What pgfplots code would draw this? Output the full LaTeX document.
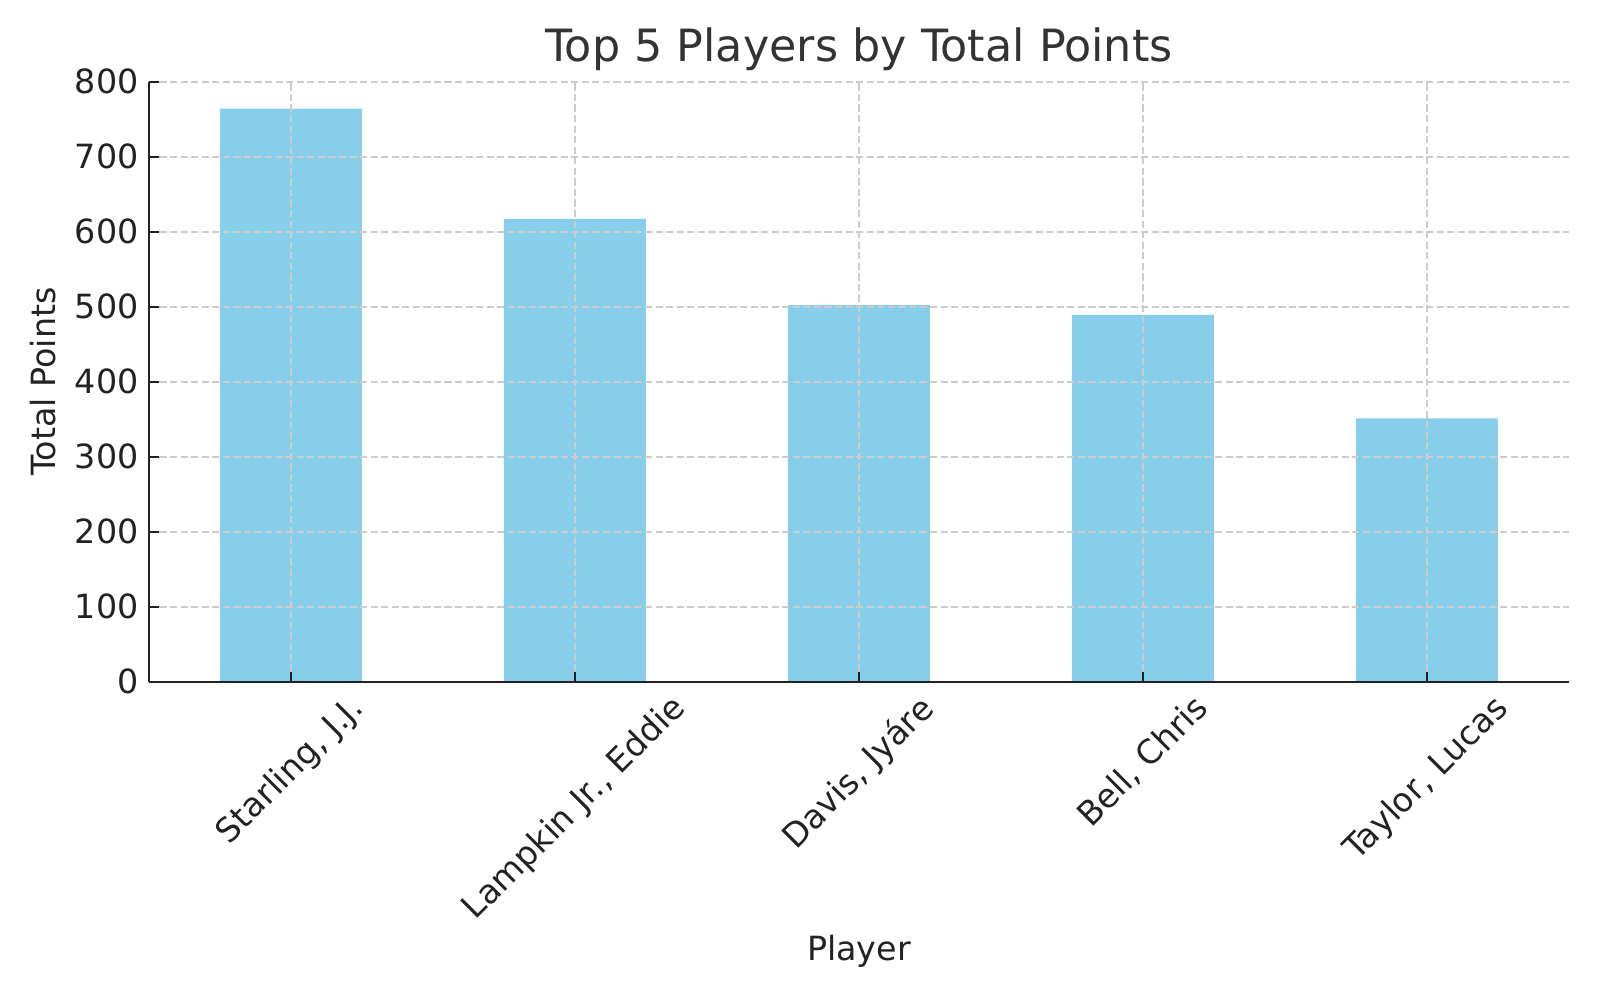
\documentclass[border=0pt]{standalone}
\usepackage{fontspec}
\setmainfont{DejaVu Sans}
\usepackage{graphicx}
\usepackage{pgfplots}
\pgfplotsset{compat=1.18}
\definecolor{barblue}{HTML}{87CEEB}
\definecolor{axcol}{HTML}{222222}
\definecolor{gridcol}{HTML}{CCCCCC}
\definecolor{titlecol}{HTML}{333333}
\begin{document}
\begin{tikzpicture}
\begin{axis}[
  at={(0,0)}, anchor=south west,
  scale only axis, width=511.2pt, height=216pt,
  xmin=-0.5, xmax=4.5, ymin=0, ymax=800,
  ytick={0,100,...,800},
  xtick={0,1,2,3,4},
  xticklabels={{\rotatebox{45}{Starling, J.J.}},{\rotatebox{45}{Lampkin Jr., Eddie}},{\rotatebox{45}{Davis, Jyáre}},{\rotatebox{45}{Bell, Chris}},{\rotatebox{45}{Taylor, Lucas}}},
  axis x line*=bottom, axis y line*=left,
  axis line style={axcol, line width=0.8pt},
  every tick/.style={axcol, line width=0.8pt},
  tick align=inside, major tick length=3.5pt,
  xmajorgrids, ymajorgrids,
  major grid style={gridcol, line width=0.6pt, dash pattern=on 2.6pt off 1.2pt},
  axis on top,
  /pgf/number format/assume math mode=true,
  ticklabel style={font=\fontsize{12}{14}\selectfont, text=axcol},
  xticklabel style={anchor=north, inner sep=0pt, yshift=-3.5pt},
  yticklabel style={anchor=east, inner sep=0pt, xshift=-3.5pt},
  every axis title shift=0pt,
  title={Top 5 Players by Total Points},
  title style={at={(axis description cs:0.5,1.0546)}, anchor=center, font=\fontsize{16}{19}\selectfont, text=titlecol},
  xlabel={Player},
  xlabel style={at={(axis description cs:0.5,-0.4486)}, anchor=center, font=\fontsize{12}{14}\selectfont, text=axcol},
  ylabel={Total Points},
  ylabel style={at={(axis description cs:-0.0747,0.5)}, anchor=center, font=\fontsize{12}{14}\selectfont, text=axcol},
]
\addplot[ybar, bar width=0.5, fill=barblue, draw=none] coordinates {
  (0,764) (1,617) (2,502) (3,489) (4,351)
};
\end{axis}
\pgfresetboundingbox
\path[use as bounding box] (-53.6pt,-114.6pt) rectangle (522.4pt,245.4pt);
\end{tikzpicture}
\end{document}
